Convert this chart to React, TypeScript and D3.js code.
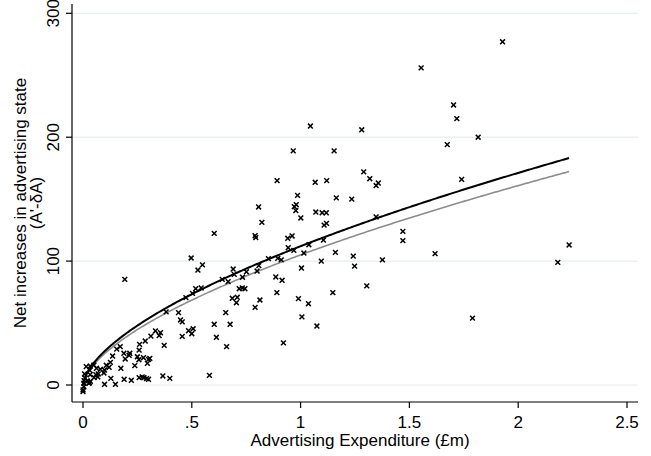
import React from "react";
import * as d3 from "d3";

const W = 651;
const H = 456;

// Scatter data: advertising expenditure (£m) vs net increase in advertising state
const expenditure = [
  1.928, 1.554, 1.703, 1.718, 1.816, 1.674, 1.74, 1.47, 1.47, 1.618, 2.234, 2.182, 1.79,
  1.281, 1.154, 1.29, 1.318, 1.357, 1.347, 1.12, 1.164, 1.235, 1.07, 1.099, 1.118, 1.108,
  1.119, 1.347, 1.105, 1.16, 1.242, 1.248, 1.095, 1.376, 1.304, 1.148, 0.892, 1.067, 0.986,
  0.98, 0.971, 0.978, 0.807, 0.822, 0.603, 0.791, 0.794, 1.001, 1.004, 0.941, 0.961, 0.943,
  0.969, 1.038, 1.015, 0.852, 0.895, 0.911, 0.808, 0.8, 0.751, 0.69, 0.695, 0.64, 0.667,
  0.733, 0.497, 0.528, 0.549, 0.886, 0.915, 0.473, 0.503, 0.518, 0.543, 0.718, 0.732, 0.744,
  0.686, 0.709, 0.705, 0.813, 0.891, 0.791, 0.656, 0.99, 1.036, 1.006, 1.075, 0.921, 0.966,
  1.045, 0.456, 0.456, 0.485, 0.506, 0.5, 0.603, 0.676, 0.613, 0.66, 0.581, 0.192, 0.382,
  0.439, 0.448, 0.333, 0.356, 0.35, 0.312, 0.286, 0.26, 0.258, 0.373, 0.171, 0.155, 0.136,
  0.188, 0.215, 0.212, 0.194, 0.25, 0.257, 0.278, 0.301, 0.238, 0.296, 0.307, 0.174, 0.126,
  0.12, 0.107, 0.099, 0.08, 0.096, 0.062, 0.059, 0.068, 0.07, 0.128, 0.099, 0.149, 0.189,
  0.222, 0.258, 0.272, 0.28, 0.292, 0.301, 0.367, 0.399, 0.031, 0.033, 0.051, 0.007, 0.03,
  0.034, 0.005, 0.004, 0.004, 0.0, 0.0, 0.021, 0.027, 0.015, 0.033, 0.05, 0.01,
];
const netIncrease = [
  277, 256, 226, 215, 200, 194, 166, 124, 116.5, 106, 113, 99, 54,
  206, 189, 172, 166.5, 163, 161, 165, 151, 150, 139.6, 139, 139, 129,
  130.5, 135.6, 117, 107, 104, 96, 100, 101, 80, 74.5, 165, 163.6, 153,
  145.5, 144, 140.7, 143.7, 131.3, 122.4, 120.5, 119, 134.8, 94.4, 118.4, 120.3, 110.8,
  108.7, 113.2, 106.5, 102, 102.2, 101, 96.3, 92, 91.4, 93.6, 89.3, 85.3, 83.4,
  87, 102.5, 92.8, 97, 87.2, 84.5, 70.5, 74, 77.7, 78.3, 77.7, 78.3, 77.7,
  70, 70.8, 66.4, 68.6, 74.5, 62.7, 58.4, 69.7, 65.6, 55, 47.6, 34, 189,
  209, 51, 39.3, 43.8, 45.4, 41.4, 49, 49, 38.5, 31, 7.8, 85.3, 59,
  58.4, 52.5, 43.6, 42.2, 39.8, 39.5, 35.5, 32.8, 28.2, 32, 31, 29, 23.4,
  25.6, 25.6, 24, 21, 22.8, 20.4, 22, 20.7, 15.6, 17.5, 21.5, 13.5, 18.3,
  14.3, 15.9, 12.1, 12.7, 9.7, 13.5, 8.3, 6.5, 8.9, 5.4, 0.6, 0.6, 4.6,
  3.8, 5.9, 6.5, 5.9, 5.1, 4.6, 7.3, 5.4, 11.9, 8.3, 5.9, 8.9, 1.9,
  3, 3.5, 1.4, -1.4, -4, -5.4, 3.2, 1.4, 14.8, 15.3, 16.1, 5.6,
];

// Fitted power curves y = a * x^b (two fits)
const fitBlack = { a: 112, b: 0.612 };
const fitGray = { a: 105, b: 0.616 };
const fitMaxX = 2.234;

const xTicks = [0, 0.5, 1, 1.5, 2, 2.5];
const xTickLabels = ["0", ".5", "1", "1.5", "2", "2.5"];
const yTicks = [0, 100, 200, 300];
const yTickLabels = ["0", "100", "200", "300"];

const xTitle = "Advertising Expenditure (£m)";
const yTitle1 = "Net increases in advertising state";
const yTitle2 = "(A'-δA)";

export default function App() {
  const x = d3.scaleLinear().domain([0, 2.5]).range([83, 627]);
  const y = d3.scaleLinear().domain([0, 300]).range([385, 13.3]);
  const axisLeft = 72;
  const axisBottom = 402;
  const plotRight = 638;
  const plotTop = 4;
  const font = "Arial, 'Liberation Sans', Helvetica, sans-serif";

  const samples = d3.range(0, 301).map((i) => (fitMaxX * i) / 300);
  const line = d3
    .line<number[]>()
    .x((d) => x(d[0]))
    .y((d) => y(d[1]));
  const blackPath = line(samples.map((v) => [v, fitBlack.a * Math.pow(v, fitBlack.b)]));
  const grayPath = line(samples.map((v) => [v, fitGray.a * Math.pow(v, fitGray.b)]));

  const m = 2.4;
  return (
    <svg
      width={W}
      height={H}
      style={{ position: "absolute", left: 0, top: 0, background: "#fff" }}
      fontFamily={font}
    >
      {yTicks.map((t) => (
        <line key={"g" + t} x1={axisLeft} x2={plotRight} y1={y(t)} y2={y(t)} stroke="#e5eef0" strokeWidth={1.2} />
      ))}
      <path d={grayPath || ""} fill="none" stroke="#8c8c8c" strokeWidth={1.6} />
      <path d={blackPath || ""} fill="none" stroke="#000" strokeWidth={2} />
      {expenditure.map((v, i) => {
        const cx = x(v);
        const cy = y(netIncrease[i]);
        return (
          <path
            key={i}
            d={`M${cx - m},${cy - m}L${cx + m},${cy + m}M${cx - m},${cy + m}L${cx + m},${cy - m}`}
            stroke="#000"
            strokeWidth={1.5}
          />
        );
      })}
      <line x1={axisLeft} x2={axisLeft} y1={plotTop} y2={axisBottom} stroke="#000" strokeWidth={1.2} />
      <line x1={axisLeft} x2={plotRight} y1={axisBottom} y2={axisBottom} stroke="#000" strokeWidth={1.2} />
      {yTicks.map((t, i) => (
        <g key={"yt" + t}>
          <line x1={axisLeft - 6} x2={axisLeft} y1={y(t)} y2={y(t)} stroke="#000" strokeWidth={1.2} />
          <text
            transform={`translate(59,${y(t)}) rotate(-90)`}
            textAnchor="middle"
            fontSize={17}
            fill="#000"
          >
            {yTickLabels[i]}
          </text>
        </g>
      ))}
      {xTicks.map((t, i) => (
        <g key={"xt" + t}>
          <line x1={x(t)} x2={x(t)} y1={axisBottom} y2={axisBottom + 6} stroke="#000" strokeWidth={1.2} />
          <text x={x(t)} y={428} textAnchor="middle" fontSize={17} fill="#000">
            {xTickLabels[i]}
          </text>
        </g>
      ))}
      <text x={360} y={446} textAnchor="middle" fontSize={17} fill="#000">
        {xTitle}
      </text>
      <text transform={`translate(26,203) rotate(-90)`} textAnchor="middle" fontSize={17} fill="#000">
        {yTitle1}
      </text>
      <text transform={`translate(42,203) rotate(-90)`} textAnchor="middle" fontSize={17} fill="#000">
        {yTitle2}
      </text>
    </svg>
  );
}
